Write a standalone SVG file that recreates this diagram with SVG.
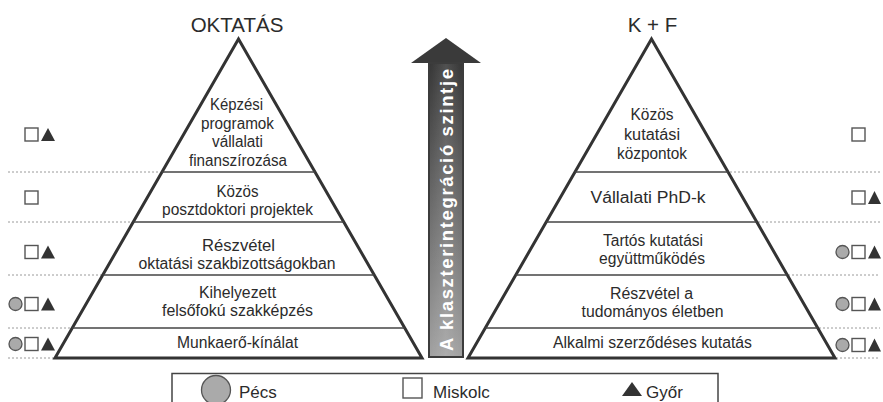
<svg xmlns="http://www.w3.org/2000/svg" width="883" height="402" viewBox="0 0 883 402">
<style>
.t{font-family:"Liberation Sans",Arial,sans-serif;font-size:16px;fill:#2b2b2b;text-anchor:middle}
.h{font-family:"Liberation Sans",Arial,sans-serif;font-size:20.5px;fill:#2b2b2b;text-anchor:middle}
.lg{font-family:"Liberation Sans",Arial,sans-serif;font-size:17px;fill:#2b2b2b}
.tri{fill:none;stroke:#333;stroke-width:3;stroke-linejoin:miter}
.sep{stroke:#444;stroke-width:1.6}
.dot{stroke:#9a9a9a;stroke-width:1;stroke-dasharray:2 2}
.c{fill:#aaa;stroke:#555;stroke-width:1.3}
.s{fill:#fff;stroke:#555;stroke-width:1.4}
.g{fill:#333}
.at{font-family:"Liberation Sans",Arial,sans-serif;font-size:18.5px;font-weight:bold;fill:#fff}
</style>
<defs>
<linearGradient id="sh" x1="0" y1="63" x2="0" y2="357" gradientUnits="userSpaceOnUse">
<stop offset="0" stop-color="#383838"/>
<stop offset="1" stop-color="#a2a2a2"/>
</linearGradient>
<linearGradient id="hl" x1="0" y1="0" x2="1" y2="0">
<stop offset="0" stop-color="#fff" stop-opacity="0"/>
<stop offset="0.5" stop-color="#fff" stop-opacity="0.12"/>
<stop offset="1" stop-color="#fff" stop-opacity="0"/>
</linearGradient>
</defs>
<rect width="883" height="402" fill="#fff"/>

<g id="connectors">
<line class="dot" x1="8" y1="172" x2="160" y2="172"/>
<line class="dot" x1="8" y1="222" x2="132" y2="222"/>
<line class="dot" x1="8" y1="275" x2="102" y2="275"/>
<line class="dot" x1="8" y1="328" x2="71" y2="328"/>
<line class="dot" x1="8" y1="358" x2="54" y2="358"/>
<line class="dot" x1="730" y1="172" x2="880" y2="172"/>
<line class="dot" x1="758" y1="222" x2="880" y2="222"/>
<line class="dot" x1="788" y1="275" x2="880" y2="275"/>
<line class="dot" x1="819" y1="328" x2="880" y2="328"/>
<line class="dot" x1="836" y1="358" x2="880" y2="358"/>
</g>

<g id="oktatas">
<text class="h" x="237" y="32">OKTATÁS</text>
<polygon class="tri" points="238.5,39 55,358 422,358"/>
<line class="sep" x1="161.8" y1="172" x2="315.2" y2="172"/>
<line class="sep" x1="133.2" y1="222" x2="343.8" y2="222"/>
<line class="sep" x1="102.8" y1="275" x2="374.2" y2="275"/>
<line class="sep" x1="72.3" y1="328" x2="404.7" y2="328"/>
<text class="t" x="236.5" y="110" textLength="53" lengthAdjust="spacingAndGlyphs">Képzési</text>
<text class="t" x="237.5" y="128.5" textLength="73" lengthAdjust="spacingAndGlyphs">programok</text>
<text class="t" x="237.5" y="147" textLength="51" lengthAdjust="spacingAndGlyphs">vállalati</text>
<text class="t" x="238" y="166" textLength="98" lengthAdjust="spacingAndGlyphs">finanszírozása</text>
<text class="t" x="237.5" y="197" textLength="42" lengthAdjust="spacingAndGlyphs">Közös</text>
<text class="t" x="237.5" y="215" textLength="151" lengthAdjust="spacingAndGlyphs">posztdoktori projektek</text>
<text class="t" x="238.5" y="251" textLength="73" lengthAdjust="spacingAndGlyphs">Részvétel</text>
<text class="t" x="237" y="269" textLength="197" lengthAdjust="spacingAndGlyphs">oktatási szakbizottságokban</text>
<text class="t" x="237.5" y="298" textLength="77" lengthAdjust="spacingAndGlyphs">Kihelyezett</text>
<text class="t" x="237.5" y="316" textLength="151" lengthAdjust="spacingAndGlyphs">felsőfokú szakképzés</text>
<text class="t" x="237.5" y="348" textLength="121" lengthAdjust="spacingAndGlyphs">Munkaerő-kínálat</text>
</g>

<g id="kf">
<text class="h" x="652.5" y="32">K + F</text>
<polygon class="tri" points="651.5,39 468,358 835,358"/>
<line class="sep" x1="574.8" y1="172" x2="728.2" y2="172"/>
<line class="sep" x1="546.2" y1="222" x2="756.8" y2="222"/>
<line class="sep" x1="515.8" y1="275" x2="787.2" y2="275"/>
<line class="sep" x1="485.3" y1="328" x2="817.7" y2="328"/>
<text class="t" x="652" y="120" textLength="43" lengthAdjust="spacingAndGlyphs">Közös</text>
<text class="t" x="652" y="139.5" textLength="56" lengthAdjust="spacingAndGlyphs">kutatási</text>
<text class="t" x="652" y="159" textLength="70" lengthAdjust="spacingAndGlyphs">központok</text>
<text class="t" x="648" y="203" textLength="115" lengthAdjust="spacingAndGlyphs">Vállalati PhD-k</text>
<text class="t" x="653" y="246" textLength="100" lengthAdjust="spacingAndGlyphs">Tartós kutatási</text>
<text class="t" x="652" y="264" textLength="106" lengthAdjust="spacingAndGlyphs">együttműködés</text>
<text class="t" x="651.5" y="299" textLength="83" lengthAdjust="spacingAndGlyphs">Részvétel a</text>
<text class="t" x="652.5" y="317" textLength="142" lengthAdjust="spacingAndGlyphs">tudományos életben</text>
<text class="t" x="652.5" y="348" textLength="199" lengthAdjust="spacingAndGlyphs">Alkalmi szerződéses kutatás</text>
</g>

<g id="arrow">
<polygon points="446,38 481,63 411,63" fill="#3a3a3a"/>
<rect x="429" y="63" width="34" height="294" fill="url(#sh)" stroke="#3c3c3c" stroke-width="2"/>
<rect x="431" y="64" width="30" height="292" fill="url(#hl)"/>
<text class="at" transform="translate(452.5,351) rotate(-90)" textLength="282" lengthAdjust="spacing">A klaszterintegráció szintje</text>
</g>

<g id="markers-left">
<rect class="s" x="25" y="128" width="13" height="13"/>
<polygon class="g" points="48,128 55,141 41,141"/>
<rect class="s" x="25" y="191" width="13" height="13"/>
<rect class="s" x="25" y="245.5" width="13" height="13"/>
<polygon class="g" points="48,245.5 55,258.5 41,258.5"/>
<circle class="c" cx="15.5" cy="304" r="6.5"/>
<rect class="s" x="25" y="297.5" width="13" height="13"/>
<polygon class="g" points="48,297.5 55,310.5 41,310.5"/>
<circle class="c" cx="15.5" cy="344" r="6.5"/>
<rect class="s" x="25" y="337.5" width="13" height="13"/>
<polygon class="g" points="48,337.5 55,350.5 41,350.5"/>
</g>

<g id="markers-right">
<rect class="s" x="852" y="128" width="13" height="13"/>
<rect class="s" x="852" y="191" width="13" height="13"/>
<polygon class="g" points="874.5,191 881,204 868,204"/>
<circle class="c" cx="842.5" cy="252" r="6.5"/>
<rect class="s" x="852" y="245.5" width="13" height="13"/>
<polygon class="g" points="874.5,245.5 881,258.5 868,258.5"/>
<circle class="c" cx="842.5" cy="304" r="6.5"/>
<rect class="s" x="852" y="297.5" width="13" height="13"/>
<polygon class="g" points="874.5,297.5 881,310.5 868,310.5"/>
<circle class="c" cx="842.5" cy="345" r="6.5"/>
<rect class="s" x="852" y="338.5" width="13" height="13"/>
<polygon class="g" points="874.5,338.5 881,351.5 868,351.5"/>
</g>

<g id="legend">
<rect x="172" y="373.5" width="546" height="40" fill="#fff" stroke="#444" stroke-width="1.5"/>
<circle class="c" cx="216" cy="390" r="14.5"/>
<text class="lg" x="239" y="398">Pécs</text>
<rect class="s" x="403" y="378" width="19" height="20"/>
<text class="lg" x="433" y="398">Miskolc</text>
<polygon class="g" points="632,382 642,396 622,396"/>
<text class="lg" x="646" y="398">Győr</text>
</g>
</svg>
